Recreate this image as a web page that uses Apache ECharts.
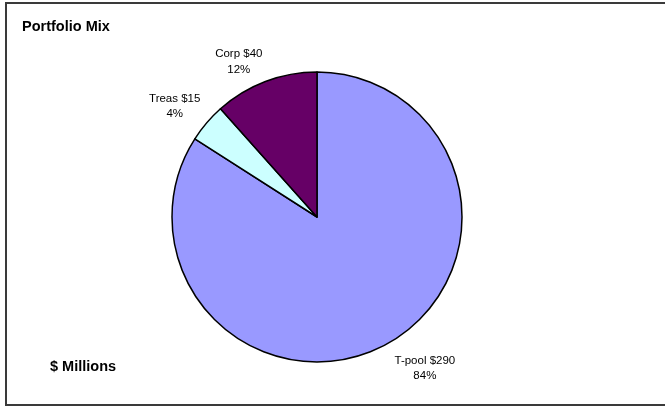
<!DOCTYPE html>
<html>
<head>
<meta charset="utf-8">
<script src="https://cdn.jsdelivr.net/npm/echarts@6/dist/echarts.min.js"></script>
<style>
  html, body { margin: 0; padding: 0; background: #fff; }
  #chart { width: 665px; height: 407px; }
</style>
</head>
<body>
<div id="chart"></div>
<script>
// Portfolio holdings, $ millions
const categories = ['T-pool', 'Treas', 'Corp'];
const amounts = [290, 15, 40];
const sliceColors = ['#9999FF', '#CCFFFF', '#660066'];

// Small per-label nudges so the captions sit clear of the rim
const labelNudge = [[20, -9], [-3, 8], [-13, 16]];

const FONT = '"Liberation Sans", Arial, Helvetica, sans-serif';
const CENTER = [317, 217];
const RADIUS = 145;

const chart = echarts.init(document.getElementById('chart'), null, { renderer: 'canvas' });

const pieData = categories.map((name, i) => ({
  name,
  value: amounts[i],
  itemStyle: { color: sliceColors[i] }
}));

// Transparent ring, only used to place the captions around the pie
const labelRingData = categories.map((name, i) => ({
  name,
  value: amounts[i],
  label: { offset: labelNudge[i] }
}));

chart.setOption({
  animation: false,
  backgroundColor: '#ffffff',
  graphic: [
    {
      type: 'rect',
      shape: { x: 6, y: 3, width: 700, height: 402 },
      style: { fill: 'none', stroke: '#3a3a3a', lineWidth: 2 },
      silent: true
    },
    {
      type: 'text',
      x: 22, y: 26.5,
      style: {
        text: 'Portfolio Mix',
        font: 'bold 14.5px ' + FONT,
        fill: '#000',
        textVerticalAlign: 'middle'
      }
    },
    {
      type: 'text',
      x: 50, y: 367,
      style: {
        text: '$ Millions',
        font: 'bold 14.5px ' + FONT,
        fill: '#000',
        textVerticalAlign: 'middle'
      }
    }
  ],
  series: [
    {
      type: 'pie',
      center: CENTER,
      radius: RADIUS,
      startAngle: 90,
      clockwise: true,
      silent: true,
      label: { show: false },
      labelLine: { show: false },
      itemStyle: { borderColor: '#000', borderWidth: 1.5 },
      data: pieData
    },
    {
      type: 'pie',
      center: CENTER,
      radius: [175, 185],
      startAngle: 90,
      clockwise: true,
      silent: true,
      itemStyle: { color: 'rgba(0,0,0,0)', borderWidth: 0 },
      labelLine: { show: false },
      label: {
        show: true,
        position: 'inside',
        rotate: 0,
        color: '#000',
        fontFamily: FONT,
        fontSize: 11.5,
        lineHeight: 15.5,
        align: 'center',
        formatter: p => p.name + ' $' + p.value + '\n' + Math.round(p.percent) + '%'
      },
      data: labelRingData
    }
  ]
});
</script>
</body>
</html>
